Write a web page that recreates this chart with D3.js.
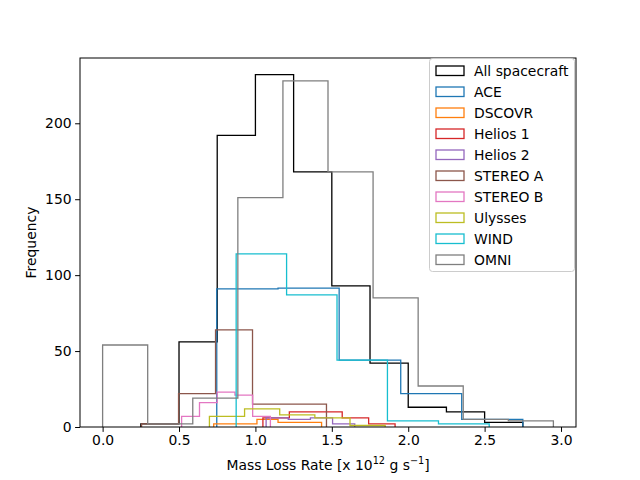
<!DOCTYPE html>
<html><head><meta charset="utf-8">
<script src="https://cdn.jsdelivr.net/npm/d3@7"></script>
<style>body{margin:0;background:#fff}svg{font-family:"DejaVu Sans",sans-serif}</style>
</head><body><svg id="c" width="640" height="480"></svg>
<script>
const seriesNames = ["All spacecraft","ACE","DSCOVR","Helios 1","Helios 2","STEREO A","STEREO B","Ulysses","WIND","OMNI"];
const seriesColors = ["#000000","#1f77b4","#ff7f0e","#d62728","#9467bd","#8c564b","#e377c2","#bcbd22","#17becf","#7f7f7f"];
const edgesAll = [0.25,0.5,0.75,1.0,1.25,1.5,1.75,2.0,2.25,2.5,2.75];
const countsAll = [2,56,192,232,168,93,42,13,10,3];
const edgesACE = [0.747,1.148,1.548,1.951,2.35,2.75];
const countsACE = [91,91.5,44,22,5];
const edgesDSCOVR = [0.727,0.868,1.01,1.148,1.29,1.433];
const countsDSCOVR = [2,2,5,3,3];
const edgesHelios1 = [1.049,1.222,1.395,1.568,1.741,1.914];
const countsHelios1 = [6,10,10,6,2];
const edgesHelios2 = [1.07,1.215,1.36,1.505,1.65];
const countsHelios2 = [6,5,6,2];
const edgesStereoA = [0.255,0.497,0.739,0.981,1.223,1.465];
const countsStereoA = [2,22,64,15,15];
const edgesStereoB = [0.517,0.634,0.75,0.866,0.982,1.098];
const countsStereoB = [7,16,23,21,7];
const edgesUlysses = [0.699,0.929,1.159,1.389,1.619,1.849];
const countsUlysses = [7,12,8,6,1];
const edgesWIND = [0.874,1.204,1.534,1.864,2.198,2.53];
const countsWIND = [114,87,44,4,2];
const edgesOMNI = [0,0.295,0.59,0.885,1.18,1.475,1.77,2.065,2.36,2.655,2.95];
const countsOMNI = [54,2,19,151,228,168,85,27,5,4];
const xTicks = [0,0.5,1,1.5,2,2.5,3];
const yTicks = [0,50,100,150,200];

const allEdges=[edgesAll,edgesACE,edgesDSCOVR,edgesHelios1,edgesHelios2,edgesStereoA,edgesStereoB,edgesUlysses,edgesWIND,edgesOMNI];
const allCounts=[countsAll,countsACE,countsDSCOVR,countsHelios1,countsHelios2,countsStereoA,countsStereoB,countsUlysses,countsWIND,countsOMNI];

const svg=d3.select("#c");
const L=80,R=576,T=58,B=427;
const x=d3.scaleLinear().domain([-0.148,3.098]).range([L,R]);
const y=d3.scaleLinear().domain([0,243]).range([B,T]);

const g=svg.append("g");
allEdges.forEach((e,i)=>{
  const c=allCounts[i];
  const pts=[[e[0],0]];
  c.forEach((v,k)=>{pts.push([e[k],v]);pts.push([e[k+1],v]);});
  pts.push([e[e.length-1],0]);
  g.append("path").attr("d",d3.line().x(d=>x(d[0])).y(d=>y(d[1]))(pts))
   .attr("fill","none").attr("stroke",seriesColors[i]).attr("stroke-width",1.3).attr("stroke-linejoin","miter");
});

svg.append("rect").attr("x",L).attr("y",T).attr("width",R-L).attr("height",B-T)
  .attr("fill","none").attr("stroke","#000").attr("stroke-width",1);

const xa=svg.append("g").attr("transform",`translate(0,${B})`)
  .call(d3.axisBottom(x).tickValues(xTicks).tickFormat(d3.format(".1f")).tickSizeOuter(0).tickSize(4.9).tickPadding(3.5));
const ya=svg.append("g").attr("transform",`translate(${L},0)`)
  .call(d3.axisLeft(y).tickValues(yTicks).tickFormat(d3.format("d")).tickSizeOuter(0).tickSize(4.9).tickPadding(3.5));
[xa,ya].forEach(a=>{a.select(".domain").remove();a.selectAll("text").attr("font-size",13.9).attr("fill","#000").attr("font-family","DejaVu Sans");a.selectAll("line").attr("stroke","#000");});

const xl=svg.append("text").attr("x",(L+R)/2).attr("y",470).attr("text-anchor","middle").attr("font-size",13.9);
xl.append("tspan").text("Mass Loss Rate [x 10");
xl.append("tspan").attr("dy",-6).attr("font-size",9.7).text("12");
xl.append("tspan").attr("dy",6).text(" g s");
xl.append("tspan").attr("dy",-6).attr("font-size",9.7).text("\u22121");
xl.append("tspan").attr("dy",6).text("]");
svg.append("text").attr("transform",`translate(36,${(T+B)/2}) rotate(-90)`).attr("text-anchor","middle").attr("font-size",13.9).text("Frequency");

const lg=svg.append("g");
lg.append("rect").attr("x",429.5).attr("y",58.5).attr("width",145).attr("height",213).attr("rx",3)
  .attr("fill","#fff").attr("fill-opacity",0.8).attr("stroke","#ccc");
seriesNames.forEach((n,i)=>{
  const yy=70.5+i*21;
  lg.append("rect").attr("x",436).attr("y",yy-4.5).attr("width",28).attr("height",9.5)
    .attr("fill","none").attr("stroke",seriesColors[i]).attr("stroke-width",1.3);
  lg.append("text").attr("x",474).attr("y",yy+5).attr("font-size",13.9).text(n);
});
</script></body></html>
